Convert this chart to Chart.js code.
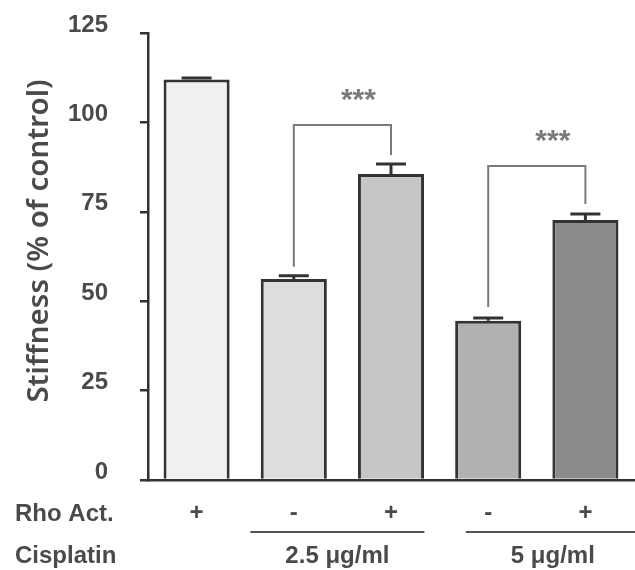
<!DOCTYPE html>
<html>
<head>
<meta charset="utf-8">
<script src="https://cdn.jsdelivr.net/npm/chart.js@4.4.1/dist/chart.umd.min.js"></script>
<style>
  html, body { margin: 0; padding: 0; background: #fff; }
  #wrap { width: 635px; height: 570px; }
</style>
</head>
<body>
<div id="wrap"><canvas id="chartRigidez"></canvas></div>
<script>
// datos
const categorias = ['Control', 'Cis 2.5 sin Rho', 'Cis 2.5 con Rho', 'Cis 5 sin Rho', 'Cis 5 con Rho'];
const rigidez = [112, 56.2, 85.6, 44.5, 72.7];
const errores = [0.4, 0.9, 2.8, 0.8, 1.7];
const rhoAct = ['+', '-', '+', '-', '+'];
const cisplatino = [
    { texto: '2.5 μg/ml', desde: 1, hasta: 2 },
    { texto: '5 μg/ml', desde: 3, hasta: 4 }
];
// comparaciones significativas: barras, altura del corchete y patas
const comparaciones = [
    { a: 1, b: 2, alto: 99.3, pataA: 59.6, pataB: 90.9, marca: '***' },
    { a: 3, b: 4, alto: 87.8, pataA: 48.4, pataB: 77.2, marca: '***' }
];
const ticksY = [0, 25, 50, 75, 100, 125];
const coloresBarras = ['#f1f1f1', '#dddddd', '#c6c6c7', '#b1b1b3', '#8b8b8e'];

const colorTexto = '#4a4a4a';
const fuente = '"Liberation Sans", Arial, sans-serif';

const pluginExtras = {
    id: 'extras',
    afterDatasetsDraw(chart) {
        const ctx = chart.ctx;
        const x = chart.scales.x;
        const y = chart.scales.y;

        // barras de error
        ctx.save();
        ctx.strokeStyle = '#333';
        ctx.lineWidth = 3;
        rigidez.forEach((v, i) => {
            const cx = x.getPixelForValue(i);
            const y0 = y.getPixelForValue(v);
            const y1 = y.getPixelForValue(v + errores[i]);
            ctx.beginPath();
            ctx.moveTo(cx, y0);
            ctx.lineTo(cx, y1);
            ctx.moveTo(cx - 15, y1);
            ctx.lineTo(cx + 15, y1);
            ctx.stroke();
        });
        ctx.restore();

        // corchetes de significancia
        ctx.save();
        ctx.strokeStyle = '#7a7a7a';
        ctx.lineWidth = 2;
        ctx.fillStyle = '#7a7a7a';
        ctx.font = 'bold 30px ' + fuente;
        ctx.textAlign = 'center';
        ctx.textBaseline = 'middle';
        comparaciones.forEach(c => {
            const xa = x.getPixelForValue(c.a);
            const xb = x.getPixelForValue(c.b);
            const yt = y.getPixelForValue(c.alto);
            ctx.beginPath();
            ctx.moveTo(xa, y.getPixelForValue(c.pataA));
            ctx.lineTo(xa, yt);
            ctx.lineTo(xb, yt);
            ctx.lineTo(xb, y.getPixelForValue(c.pataB));
            ctx.stroke();
            ctx.fillText(c.marca, (xa + xb) / 2 + 16, yt - 24);
        });
        ctx.restore();
    },
    afterDraw(chart) {
        const ctx = chart.ctx;
        const x = chart.scales.x;
        const area = chart.chartArea;

        ctx.save();
        ctx.fillStyle = colorTexto;
        ctx.font = 'bold 24px ' + fuente;
        ctx.textBaseline = 'middle';

        // filas de condiciones
        ctx.textAlign = 'left';
        ctx.fillText('Rho Act.', 15, area.bottom + 34);
        ctx.fillText('Cisplatin', 15, area.bottom + 76);

        ctx.textAlign = 'center';
        rhoAct.forEach((s, i) => {
            ctx.fillText(s, x.getPixelForValue(i), area.bottom + 33);
        });

        // desplazamiento horizontal de cada grupo respecto a su centro
        const corrimiento = [-5, 16];
        ctx.strokeStyle = '#555';
        ctx.lineWidth = 2;
        cisplatino.forEach((g, k) => {
            const xa = x.getPixelForValue(g.desde);
            const xb = x.getPixelForValue(g.hasta);
            const centro = (xa + xb) / 2 + corrimiento[k];
            ctx.beginPath();
            ctx.moveTo(centro - 87, area.bottom + 52);
            ctx.lineTo(Math.min(centro + 87, chart.width), area.bottom + 52);
            ctx.stroke();
            ctx.fillText(g.texto, centro, area.bottom + 76);
        });

        // titulo del eje Y
        ctx.translate(40, 241);
        ctx.rotate(-Math.PI / 2);
        ctx.font = '600 29.5px "Noto Sans", sans-serif';
        ctx.fillText('Stiffness (% of control)', 0, 0);
        ctx.restore();
    }
};

const canvas = document.getElementById('chartRigidez');
const context = canvas.getContext('2d');

const chartRigidez = new Chart(context, {
    type: 'bar',
    data: {
        labels: categorias,
        datasets: [
            {
                label: 'Stiffness',
                data: rigidez,
                backgroundColor: coloresBarras,
                borderColor: '#333',
                borderWidth: 3,
                barPercentage: 0.68,
                categoryPercentage: 1
            }
        ]
    },
    options: {
        responsive: true,
        maintainAspectRatio: false,
        animation: false,
        layout: {
            padding: { top: 33, right: 1, bottom: 0, left: 0 }
        },
        plugins: {
            legend: { display: false },
            tooltip: { enabled: false }
        },
        scales: {
            x: {
                grid: { display: false },
                border: { display: true, color: '#333', width: 2.5 },
                ticks: { display: false },
                afterFit(scale) {
                    scale.height = 90;
                    scale.paddingLeft = 0;
                    scale.paddingRight = 0;
                }
            },
            y: {
                min: 0,
                max: 125,
                afterBuildTicks(scale) {
                    scale.ticks = ticksY.map(v => ({ value: v }));
                },
                grid: {
                    drawOnChartArea: false,
                    drawTicks: true,
                    tickLength: 8,
                    color: '#333',
                    lineWidth: 2.5
                },
                border: { display: true, color: '#333', width: 2.5 },
                ticks: {
                    padding: 32,
                    labelOffset: -8,
                    color: colorTexto,
                    font: { family: fuente, size: 24, weight: 'bold' }
                },
                afterFit(scale) {
                    scale.width = 148;
                    scale.paddingTop = 0;
                    scale.paddingBottom = 0;
                }
            }
        }
    },
    plugins: [pluginExtras]
});
</script>
</body>
</html>
